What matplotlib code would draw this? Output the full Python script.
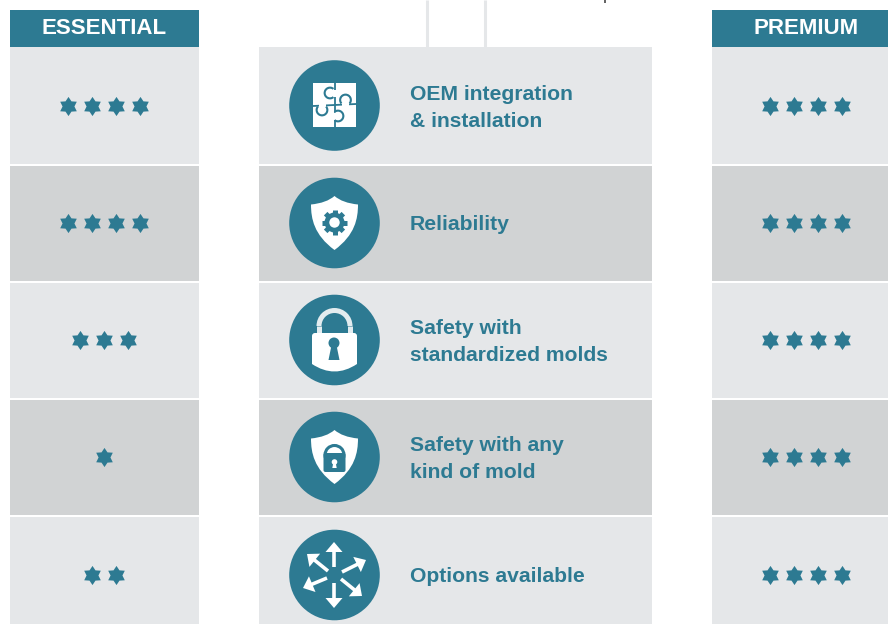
import numpy as np
import matplotlib
matplotlib.use("Agg")
import matplotlib.pyplot as plt
from matplotlib.patches import Circle, Rectangle, Polygon, PathPatch, Wedge, FancyBboxPatch
from matplotlib.path import Path

plt.rcParams['font.family'] = ['Liberation Sans', 'DejaVu Sans']

features = ["OEM integration\n& installation", "Reliability", "Safety with\nstandardized molds",
            "Safety with any\nkind of mold", "Options available"]
essential = [4, 4, 3, 1, 2]
premium = [4, 4, 4, 4, 4]
row_top = [47, 166, 283, 400, 517]
row_bottom = [164, 281, 398, 515, 624]
row_center = [106, 223, 340, 457, 575]
icon_center = [105.5, 223, 340, 457, 575]
row_color = ['#e5e7e9', '#d1d3d4', '#e5e7e9', '#d1d3d4', '#e5e7e9']
teal = '#2d7a92'
spokes = [((334, 567), (334, 542)), ((334, 583), (334, 608)), ((328, 571), (307, 554)),
          ((342, 572), (366, 560)), ((327, 578), (303, 588)), ((341, 579), (362, 596))]

fig = plt.figure(figsize=(8.88, 6.24), dpi=100)
ax = fig.add_axes([0, 0, 1, 1])
ax.set_xlim(0, 888)
ax.set_ylim(624, 0)
ax.axis('off')

# six pointed star marker
def hexagram():
    pts = []
    for i in range(12):
        r = 1.0 if i % 2 == 0 else 0.62
        a = np.pi / 2 + i * np.pi / 6
        pts.append((r * np.cos(a), r * np.sin(a)))
    return Path(pts + [pts[0]], closed=True)

star = hexagram()

def stars(cx, cy, n):
    xs = cx + (np.arange(n) - (n - 1) / 2) * 24
    ax.scatter(xs, [cy] * n, marker=star, s=190, color=teal, linewidths=0, zorder=3)

def shield(cx, top, bottom):
    w = 23.5
    h = bottom - top
    v = [(cx, top), (cx - 8, top + 7), (cx - w, top + 8.5),
         (cx - w, top + h * .42), (cx - w + 3, top + h * .72), (cx, bottom),
         (cx + w - 3, top + h * .72), (cx + w, top + h * .42), (cx + w, top + 8.5),
         (cx + 8, top + 7), (cx, top), (cx, top)]
    codes = [Path.MOVETO, Path.CURVE3, Path.CURVE3, Path.CURVE4, Path.CURVE4, Path.CURVE4,
             Path.CURVE4, Path.CURVE4, Path.CURVE4, Path.CURVE3, Path.CURVE3, Path.CLOSEPOLY]
    ax.add_patch(PathPatch(Path(v, codes), fc='white', ec='none', zorder=5))

def puzzle(cx, cy):
    ax.add_patch(Rectangle((cx - 21.5, cy - 22), 43, 44, fc='white', ec='none', zorder=5))
    ax.plot([cx, cx], [cy - 22, cy + 22], color=teal, lw=1.3, zorder=6)
    ax.plot([cx - 21.5, cx + 21.5], [cy + 1, cy - 1], color=teal, lw=1.3, zorder=6)
    knobs = [(-4.5, -12, 50, 310, (1, 0)), (11, -5, 140, 400, (0, 1)),
             (-12.5, 5, -40, 220, (0, -1)), (3.5, 11, 230, 490, (-1, 0))]
    for kx, ky, t1, t2, d in knobs:
        ax.add_patch(Circle((cx + kx, cy + ky), 4.5, fc='white', ec='none', zorder=7))
        ax.add_patch(Wedge((cx + kx, cy + ky), 6.4, t1, t2, width=2.1, fc=teal, ec='none', zorder=7))
        # open the seam where the knob joins the next tile
        ax.add_patch(Rectangle((cx + kx + d[0] * 6 - 3.5, cy + ky + d[1] * 6 - 3.5), 7, 7,
                               fc='white', ec='none', zorder=6.5))

def gear(cx, cy):
    ang = np.linspace(0, 2 * np.pi, 8, endpoint=False)
    for a in ang:
        ax.plot([cx + 7 * np.cos(a), cx + 12.5 * np.cos(a)], [cy + 7 * np.sin(a), cy + 12.5 * np.sin(a)],
                color=teal, lw=3.6, solid_capstyle='butt', zorder=6)
    ax.add_patch(Circle((cx, cy), 7.6, fc='white', ec=teal, lw=3.4, zorder=7))

def keyhole(cx, cy, r, half, end, color):
    ax.add_patch(Circle((cx, cy), r, fc=color, ec='none', zorder=8))
    ax.add_patch(Polygon([(cx - r * .45, cy + r * .4), (cx + r * .45, cy + r * .4),
                          (cx + half, end), (cx - half, end)],
                         fc=color, ec='none', zorder=8))

def padlock(cx, cy):
    ax.add_patch(Wedge((cx, 326), 18, 180, 360, width=5, fc='#e3ecef', ec='none', zorder=4.5))
    ax.plot([cx - 15.5, cx - 15.5], [326, 335], color='#e3ecef', lw=3.6, solid_capstyle='butt', zorder=4.5)
    ax.plot([cx + 15.5, cx + 15.5], [326, 335], color='#e3ecef', lw=3.6, solid_capstyle='butt', zorder=4.5)
    v = [(312, 336), (312, 333), (315, 333), (354, 333), (357, 333), (357, 336), (357, 364),
         (334.5, 379), (312, 364), (312, 336)]
    codes = [Path.MOVETO, Path.CURVE3, Path.CURVE3, Path.LINETO, Path.CURVE3, Path.CURVE3,
             Path.LINETO, Path.CURVE3, Path.CURVE3, Path.CLOSEPOLY]
    ax.add_patch(PathPatch(Path(v, codes), fc='white', ec='none', zorder=5))
    keyhole(cx - 0.5, 343, 5.5, 5.5, 360, teal)

def shield_lock(cx):
    shield(cx, 430, 484)
    ax.add_patch(Circle((cx, 455), 9.5, fc='none', ec=teal, lw=2.2, zorder=6))
    ax.add_patch(FancyBboxPatch((cx - 9, 455), 18, 15, boxstyle='round,pad=2', fc=teal, ec='none', zorder=7))
    keyhole(cx, 462, 2.8, 2.2, 468, 'white')

def arrows():
    for tail, tip in spokes:
        t = np.array(tail, float)
        p = np.array(tip, float)
        u = (p - t) / np.hypot(*(p - t))
        n = np.array([-u[1], u[0]])
        neck = p - u * 10
        ax.add_patch(Polygon([t + n * 1.8, neck + n * 1.8, neck + n * 8.5, p,
                              neck - n * 8.5, neck - n * 1.8, t - n * 1.8],
                             fc='white', ec='none', zorder=6))

# headers
for x0, w, name in [(10, 189, 'ESSENTIAL'), (712, 176, 'PREMIUM')]:
    ax.add_patch(Rectangle((x0, 10), w, 37, fc=teal, ec='none'))
    ax.text(104.5 if w == 189 else 806.5, 28.5, name, color='white', fontsize=16, fontweight='bold',
            ha='center', va='center')

# stubs above the middle column
for x in [427, 484.5]:
    ax.plot([x, x], [0, 47], color='#e5e7e9', lw=2.2, solid_capstyle='butt')
ax.plot([605, 605], [0, 3], color='#555555', lw=1.3, solid_capstyle='butt')

for i in range(5):
    h = row_bottom[i] - row_top[i]
    ax.add_patch(Rectangle((10, row_top[i]), 189, h, fc=row_color[i], ec='none'))
    ax.add_patch(Rectangle((259, row_top[i]), 393, h, fc=row_color[i], ec='none'))
    ax.add_patch(Rectangle((712, row_top[i]), 176, h, fc=row_color[i], ec='none'))
    stars(104, row_center[i], essential[i])
    stars(806, row_center[i], premium[i])
    ax.add_patch(Circle((334.5, icon_center[i]), 45.3, fc=teal, ec='none', zorder=4))
    ax.text(410, row_center[i] + 2, features[i], color=teal, fontsize=15.2, fontweight='bold',
            ha='left', va='center', linespacing=1.5, zorder=5)

puzzle(334.5, 105)
shield(334.5, 196, 250)
gear(334.5, 222.5)
padlock(334.5, 340)
shield_lock(334.5)
arrows()

fig.savefig('out.png', dpi=100)
